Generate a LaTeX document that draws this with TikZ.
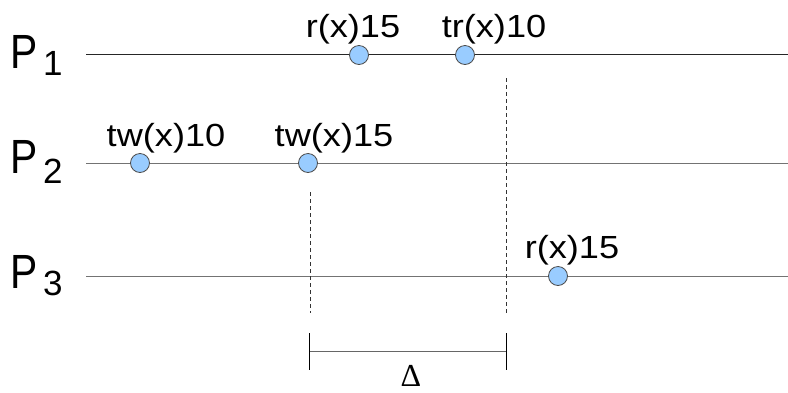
\documentclass[tikz,border=0pt]{standalone}
\usepackage{fontspec}
\usepackage{graphicx}
\setmainfont{Liberation Sans}
\newfontfamily\deltafont{Liberation Serif}
\newcommand{\pname}[1]{\scalebox{0.85}[1]{\fontsize{48}{48}\selectfont #1}}
\newcommand{\evtext}[1]{\scalebox{1.13}[1]{\fontsize{32}{32}\selectfont #1}}
\begin{document}
\begin{tikzpicture}[x=1pt,y=-1pt,
  proc/.style={inner sep=0pt, anchor=base west},
  sub/.style={font=\fontsize{35}{35}\selectfont, inner sep=0pt, anchor=base west},
  lbl/.style={inner sep=0pt, anchor=base},
  ev/.style={circle, draw=black!70, fill={rgb,255:red,153;green,204;blue,255}, minimum size=19pt, inner sep=0pt, line width=0.8pt},
  tl/.style={line width=1pt},
  dsh/.style={dashed, dash pattern=on 4pt off 3pt, line width=0.8pt, black!80}]
\useasboundingbox (0,0) rectangle (788,392);
% process labels
\node[proc] (p1) at (10,68) {\pname{P}};
\node[sub] (s1) at (43,75) {1};
\node[proc] (p2) at (10,173) {\pname{P}};
\node[sub] (s2) at (43,183) {2};
\node[proc] (p3) at (10,288) {\pname{P}};
\node[sub] (s3) at (43,295) {3};
% time lines
\coordinate (l1a) at (86,54); \coordinate (l1b) at (788,54);
\coordinate (l2a) at (86,163); \coordinate (l2b) at (788,163);
\coordinate (l3a) at (86,276); \coordinate (l3b) at (788,276);
\draw[tl, black!85] (l1a) -- (l1b);
\draw[tl, black!55] (l2a) -- (l2b);
\draw[tl, black!55] (l3a) -- (l3b);
% dashed lines
\coordinate (d1a) at (310,192); \coordinate (d1b) at (310,313);
\coordinate (d2a) at (506,78); \coordinate (d2b) at (506,313);
\draw[dsh] (d1a) -- (d1b);
\draw[dsh] (d2a) -- (d2b);
% events
\node[ev] (e1) at (359,55) {};
\node[ev] (e2) at (465,55) {};
\node[ev] (e3) at (140,163) {};
\node[ev] (e4) at (308,163) {};
\node[ev] (e5) at (558,276) {};
% labels
\node[lbl] (t1) at (353,37) {\evtext{r(x)15}};
\node[lbl] (t2) at (494,37) {\evtext{tr(x)10}};
\node[lbl] (t3) at (166,146) {\evtext{tw(x)10}};
\node[lbl] (t4) at (334,146) {\evtext{tw(x)15}};
\node[lbl] (t5) at (572,258) {\evtext{r(x)15}};
% delta bracket
\coordinate (b1) at (309,351); \coordinate (b2) at (506,351);
\coordinate (b1t) at (309,333); \coordinate (b1b) at (309,370);
\coordinate (b2t) at (506,333); \coordinate (b2b) at (506,370);
\draw[line width=1pt, black!60] (b1) -- (b2);
\draw[line width=1pt] (b1t) -- (b1b);
\draw[line width=1pt] (b2t) -- (b2b);
\node[font=\fontsize{32}{32}\selectfont\deltafont, inner sep=0pt, text depth=0pt, anchor=base] (dl) at (411,386) {Δ};
\end{tikzpicture}
\end{document}
